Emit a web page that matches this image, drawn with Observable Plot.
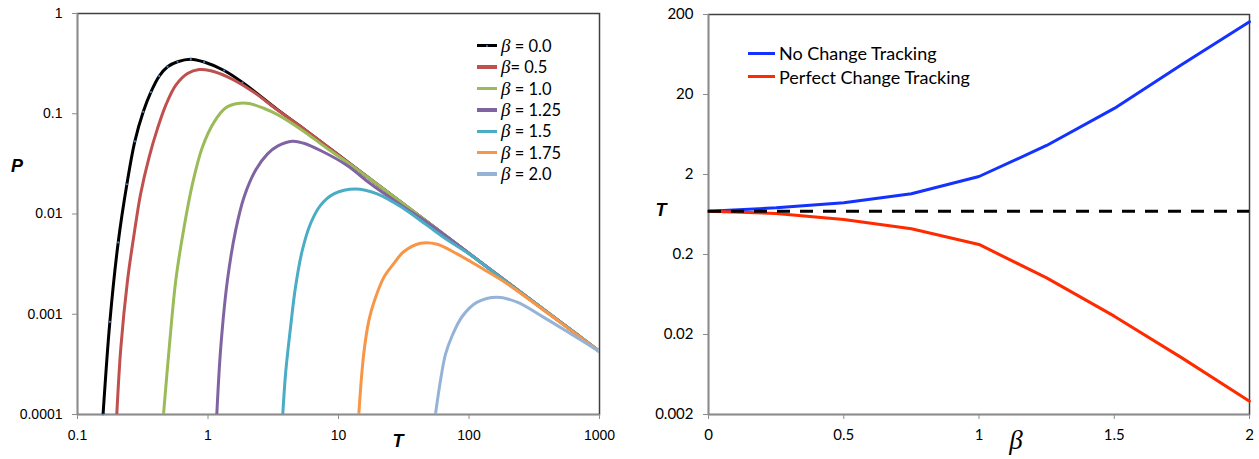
<!DOCTYPE html>
<html><head><meta charset="utf-8">
<script src="https://cdn.jsdelivr.net/npm/d3@7"></script>
<script src="https://cdn.jsdelivr.net/npm/@observablehq/plot@0.6"></script>
<style>
body{margin:0;background:#fff;}
#wrap{position:relative;width:1259px;height:459px;overflow:hidden;background:#fff;}
#left,#right{position:absolute;top:0;}
#left{left:0;} #right{left:630px;}
.lab{position:absolute;white-space:nowrap;transform:translate(-50%,-50%);line-height:1;}
.leg{position:absolute;display:flex;align-items:center;white-space:nowrap;height:20px;font-family:Lato,sans-serif;color:#000;}
.sw{display:inline-block;position:relative;}
.b{font-family:"Liberation Serif",serif;font-style:italic;}
</style></head><body><div id="wrap"><div id="left"></div><div id="right"></div></div>
<script>
// ---------- Left panel data: [T, P] pairs ----------
const beta00 = [[0.157,0.0001],[0.177,0.00084],[0.205,0.0052],[0.239,0.0198],[0.275,0.053],[0.319,0.1045],[0.365,0.164],[0.423,0.237],[0.49,0.294],[0.584,0.33],[0.738,0.35],[0.935,0.328],[1.33,0.27],[1.84,0.205],[3.41,0.11],[5,0.0764],[10,0.0388],[20,0.0196],[50,0.008],[100,0.00405],[200,0.00205],[500,0.00084],[1000,0.000424]];
const beta05 = [[0.2,0.0001],[0.215,0.00047],[0.242,0.0022],[0.272,0.0064],[0.305,0.016],[0.354,0.037],[0.41,0.071],[0.475,0.122],[0.567,0.193],[0.697,0.252],[0.856,0.276],[1.05,0.268],[1.41,0.233],[2.13,0.172],[3.41,0.109],[5,0.0764],[10,0.0388],[20,0.0196],[50,0.008],[100,0.00405],[200,0.00205],[500,0.00084],[1000,0.000424]];
const beta10 = [[0.456,0.0001],[0.505,0.00047],[0.567,0.0022],[0.657,0.0075],[0.761,0.0201],[0.908,0.0468],[1.116,0.083],[1.37,0.1146],[1.68,0.1265],[2.07,0.1265],[2.7,0.1128],[3.41,0.098],[5.4,0.067],[8,0.046],[12,0.032],[20,0.0196],[50,0.008],[100,0.00405],[200,0.00205],[500,0.00084],[1000,0.000424]];
const beta125 = [[1.168,0.0001],[1.253,0.00047],[1.41,0.0022],[1.63,0.0069],[1.89,0.0148],[2.32,0.0275],[2.86,0.0398],[3.41,0.0475],[4.42,0.0532],[5.42,0.0508],[7.28,0.043],[11.66,0.0305],[17.6,0.02],[30,0.0123],[50,0.0079],[100,0.00404],[200,0.00205],[500,0.00084],[1000,0.000424]];
const beta15 = [[3.74,0.0001],[3.93,0.000255],[4.29,0.00074],[4.68,0.00186],[5.27,0.0043],[6.1,0.008],[7.28,0.0122],[9.21,0.0159],[13.5,0.0178],[19.8,0.0159],[31.7,0.0113],[47.8,0.0077],[70,0.0054],[100,0.004],[200,0.00204],[500,0.00084],[1000,0.000424]];
const beta175 = [[14.3,0.0001],[15.6,0.0004],[17.1,0.00087],[18.9,0.00138],[22.2,0.00232],[26.5,0.0032],[31.6,0.0042],[42.5,0.0051],[57,0.005],[81,0.004],[130,0.0028],[200,0.00198],[500,0.00083],[1000,0.000424]];
const beta20 = [[55.3,0.0001],[60.5,0.00022],[66.1,0.0004],[74.3,0.00061],[88.7,0.00095],[115.6,0.00132],[164,0.00148],[234,0.00132],[374,0.00093],[600,0.00064],[1000,0.000424]];
const leftNames = ["β = 0.0","β= 0.5","β = 1.0","β = 1.25","β = 1.5","β = 1.75","β = 2.0"];
const leftColors = ["#000000","#c0504d","#9bbb59","#8064a2","#4bacc6","#f79646","#95b3d7"];
const leftData = [beta00,beta05,beta10,beta125,beta15,beta175,beta20];
const leftXTicks = [0.1,1,10,100,1000];
const leftYTicks = [0.0001,0.001,0.01,0.1,1];

// ---------- Right panel data ----------
const betaR = [0,0.25,0.5,0.75,1,1.25,1.5,1.75,2];
const noTracking = [0.695,0.767,0.885,1.148,1.888,4.61,13.4,47.4,162];
const perfectTracking = [0.695,0.651,0.548,0.419,0.267,0.102,0.0339,0.0102,0.00293];
const refT = 0.695;
const rightNames = ["No Change Tracking","Perfect Change Tracking"];
const rightColors = ["#1432ff","#ff2a00"];
const rightXTicks = [0,0.5,1,1.5,2];
const rightYTicks = [0.002,0.02,0.2,2,20,200];

const toRows = d => d.map(([T,P]) => ({T,P}));

const leftMarks = [
  Plot.frame({stroke:"#404040", strokeWidth:1.5}),
  Plot.ruleX([0.1], {stroke:"#8c8c8c", strokeWidth:1.5}),
  Plot.ruleY([0.0001], {stroke:"#8c8c8c", strokeWidth:1.5}),
  Plot.axisX({ticks:leftXTicks, tickFormat:d=>String(d), tickSize:5, tickPadding:11, stroke:"#8c8c8c", fill:"#000", label:null}),
  Plot.axisY({ticks:leftYTicks, tickFormat:d=>String(d), tickSize:5, tickPadding:10, stroke:"#8c8c8c", fill:"#000", label:null})
];
leftData.forEach((d,i) => {
  leftMarks.push(Plot.line(toRows(d), {x:"T", y:"P", stroke:leftColors[i], strokeWidth:3, curve:"catmull-rom", clip:true}));
  if (i === 0) leftMarks.push(Plot.dot(toRows(d).filter(r => r.T < 3), {x:"T", y:"P", r:1.1, fill:"#4f81bd", stroke:null}));
});

const left = Plot.plot({
  width:630, height:459, marginLeft:77, marginRight:31, marginTop:13, marginBottom:45,
  x:{type:"log", domain:[0.1,1000]},
  y:{type:"log", domain:[0.0001,1]},
  style:{fontFamily:"'Liberation Sans', Arial, sans-serif", fontSize:"14px", color:"#000", background:"#fff", overflow:"visible"},
  marks:leftMarks
});
document.getElementById("left").append(left);

const rRows = (vals) => betaR.map((b,i) => ({b, T: vals[i]}));
const right = Plot.plot({
  width:629, height:459, marginLeft:78, marginRight:10, marginTop:14, marginBottom:45,
  x:{domain:[0,2]},
  y:{type:"log", domain:[0.002,200]},
  style:{fontFamily:"Lato, sans-serif", fontSize:"15px", color:"#000", background:"#fff", overflow:"visible"},
  marks:[
    Plot.frame({stroke:"#404040", strokeWidth:1.5}),
    Plot.ruleX([0], {stroke:"#8c8c8c", strokeWidth:1.5}),
    Plot.ruleY([0.002], {stroke:"#8c8c8c", strokeWidth:1.5}),
    Plot.axisX({ticks:rightXTicks, tickFormat:d=>String(d), tickSize:5, tickPadding:10, stroke:"#8c8c8c", fill:"#000", label:null}),
    Plot.axisY({ticks:rightYTicks, tickFormat:d=>String(d), tickSize:5, tickPadding:10, stroke:"#8c8c8c", fill:"#000", label:null}),
    Plot.line(rRows(noTracking), {x:"b", y:"T", stroke:rightColors[0], strokeWidth:3}),
    Plot.line(rRows(perfectTracking), {x:"b", y:"T", stroke:rightColors[1], strokeWidth:3}),
    Plot.ruleY([refT], {x1:0, x2:2, stroke:"#000", strokeWidth:3, strokeDasharray:"13,10"})
  ]
});
document.getElementById("right").append(right);

// ---------- Text labels and legends ----------
const wrap = document.getElementById("wrap");
function label(html, x, y, css) {
  const s = document.createElement("div");
  s.className = "lab"; s.innerHTML = html;
  s.style.left = x + "px"; s.style.top = y + "px";
  Object.assign(s.style, css);
  wrap.append(s);
}
const axisFont = {fontFamily:"'Liberation Sans', Arial, sans-serif", fontWeight:"bold", fontStyle:"italic", fontSize:"18px"};
label("P", 17, 166, axisFont);
label("T", 398, 441, axisFont);
label("T", 661, 210, axisFont);
label("β", 1016, 440, {fontFamily:"'Liberation Serif', serif", fontStyle:"italic", fontSize:"27px"});

function legendRow(x, cy, color, html, fontSize, swW, dot) {
  const row = document.createElement("div");
  row.className = "leg";
  row.style.left = x + "px"; row.style.top = (cy - 10) + "px"; row.style.fontSize = fontSize;
  const sw = document.createElement("span");
  sw.className = "sw";
  sw.style.width = swW + "px"; sw.style.height = "3.5px"; sw.style.background = color; sw.style.marginRight = "4px";
  if (dot) {
    const d = document.createElement("span");
    d.style.cssText = "position:absolute;left:" + (swW/2 - 1) + "px;top:1px;width:2px;height:2px;background:#4f81bd;border-radius:1px;";
    sw.append(d);
  }
  row.append(sw);
  const t = document.createElement("span");
  t.innerHTML = html;
  row.append(t);
  wrap.append(row);
}
leftNames.forEach((n,i) => {
  const html = '<span class="b" style="font-size:19px">β</span>' + n.slice(1);
  legendRow(477, 45.7 + i*21.4, leftColors[i], html, "16.5px", 20, i === 0);
});
rightNames.forEach((n,i) => {
  legendRow(748, 53.3 + i*23.4, rightColors[i], n, "18px", 27, false);
});
</script>
</body></html>
